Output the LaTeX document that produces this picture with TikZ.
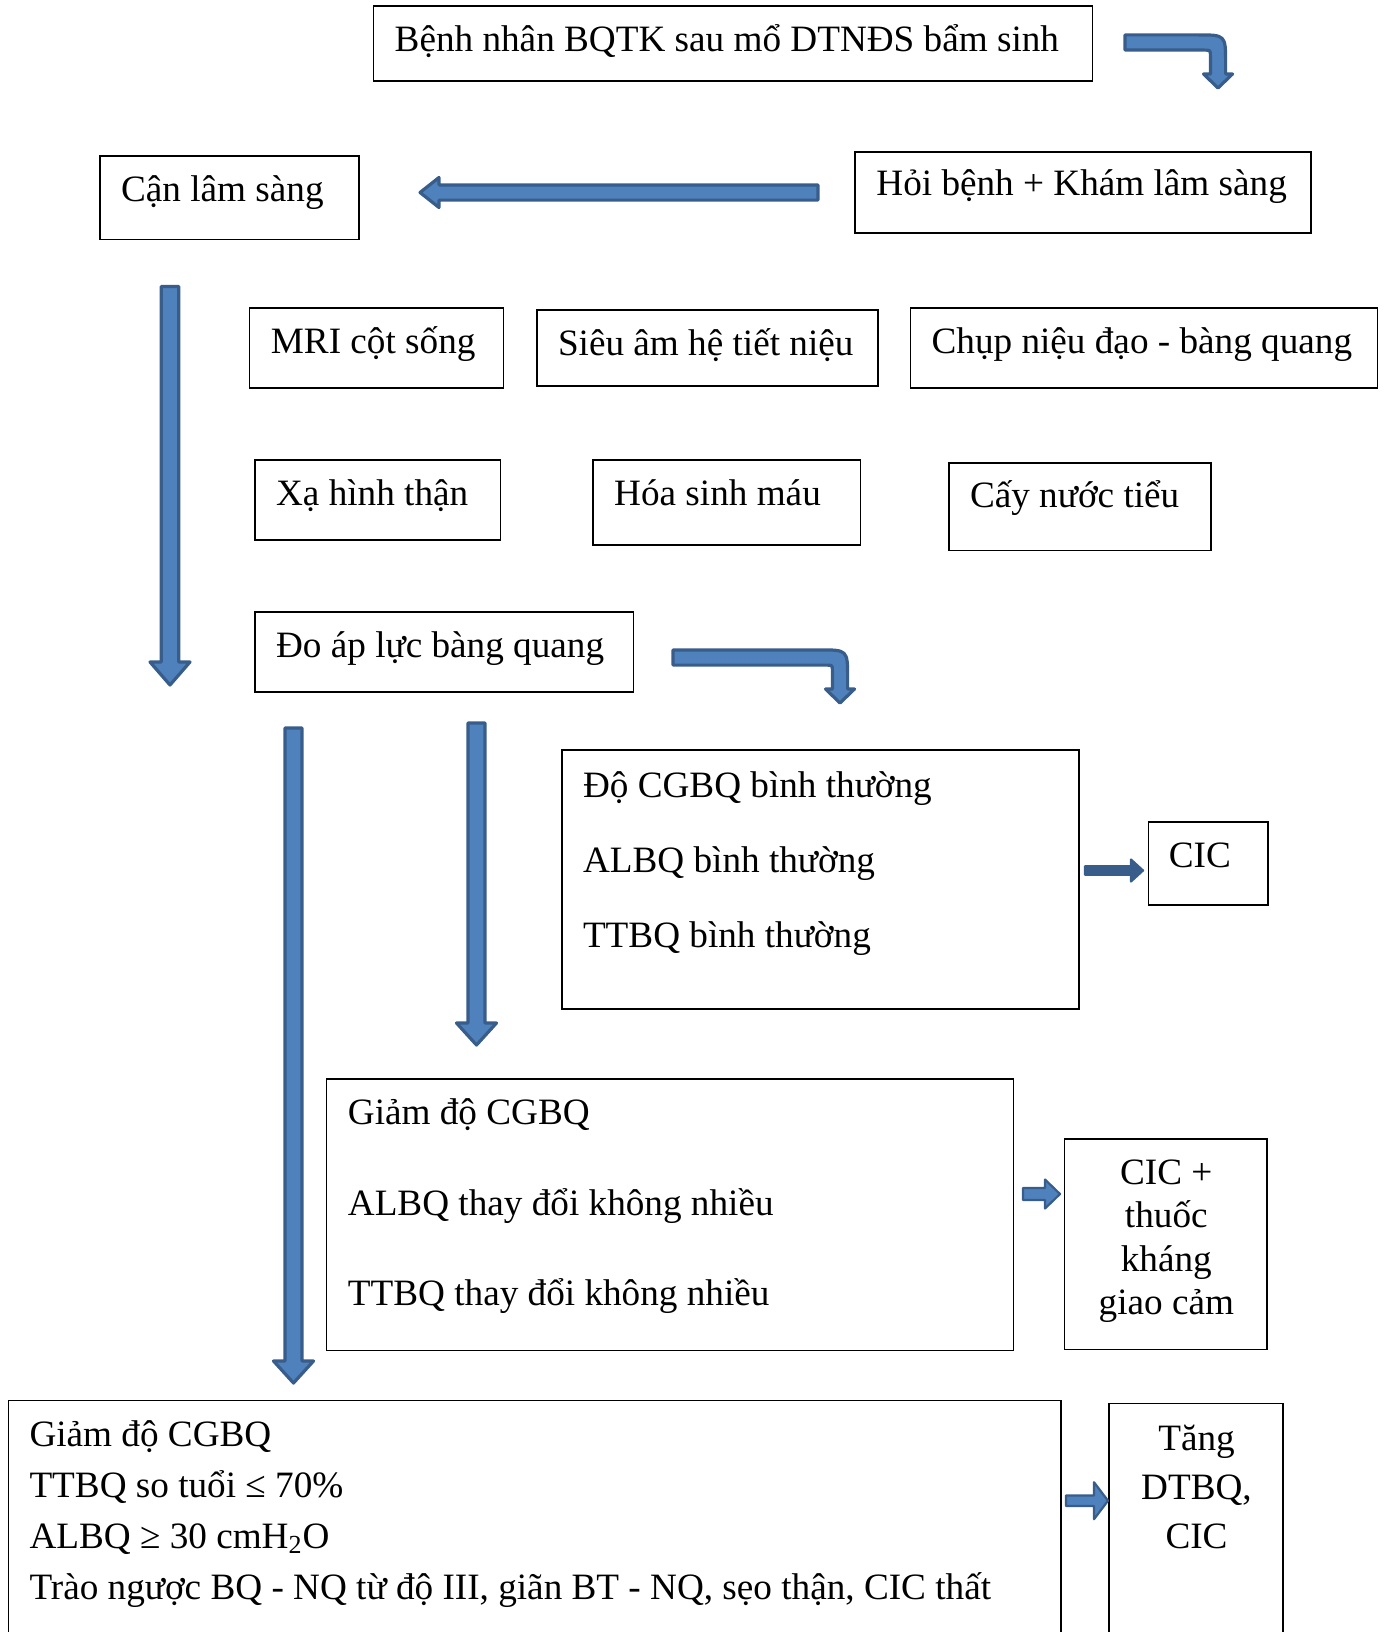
\documentclass[tikz,border=0pt]{standalone}
\usepackage{fontspec}
\setmainfont{Liberation Serif}
\usetikzlibrary{fit}
\definecolor{arrowfill}{HTML}{4F81BD}
\definecolor{arrowline}{HTML}{385D8A}

% block arrow pointing down: x, y top, y tip, shaft half width, head half width, head length
\newcommand\blockdown[6]{%
  \path[blk] ({#1-#4},#2) -- ({#1+#4},#2) -- ({#1+#4},{#3-#6}) -- ({#1+#5},{#3-#6})
    -- (#1,#3) -- ({#1-#5},{#3-#6}) -- ({#1-#4},{#3-#6}) -- cycle;}
% block arrow pointing right: y, x start, x tip, shaft half width, head half width, head length
\newcommand\blockright[6]{%
  \path[blk] (#2,{#1-#4}) -- ({#3-#6},{#1-#4}) -- ({#3-#6},{#1-#5}) -- (#3,#1)
    -- ({#3-#6},{#1+#5}) -- ({#3-#6},{#1+#4}) -- (#2,{#1+#4}) -- cycle;}
% block arrow pointing left: y, x start, x tip, shaft half width, head half width, head length
\newcommand\blockleft[6]{%
  \path[blk] (#2,{#1-#4}) -- ({#3+#6},{#1-#4}) -- ({#3+#6},{#1-#5}) -- (#3,#1)
    -- ({#3+#6},{#1+#5}) -- ({#3+#6},{#1+#4}) -- (#2,{#1+#4}) -- cycle;}
% bent arrow: right then down. x start, y centre, x of vertical, y head top, y tip
\newcommand\blockbend[5]{%
  \path[blk] (#1,{#2-7.6}) -- ({#3+7.6-28},{#2-7.6}) .. controls ({#3+7.6},{#2-7.6}) .. ({#3+7.6},{#2-7.6+28})
    -- ({#3+7.6},#4) -- ({#3+14.5},#4) -- (#3,#5) -- ({#3-14.5},#4) -- ({#3-7.6},#4)
    -- ({#3-7.6},{#2+7.6+6}) .. controls ({#3-7.6},{#2+7.6}) .. ({#3-7.6-6},{#2+7.6})
    -- (#1,{#2+7.6}) -- cycle;}

\begin{document}
\begin{tikzpicture}[x=0.5pt,y=-0.5pt,
  box/.style={draw, line width=0.75pt, inner sep=0pt},
  txt/.style={anchor=base west, inner sep=0pt, font=\fontsize{18.6}{22}\selectfont},
  ctxt/.style={anchor=base, inner sep=0pt, font=\fontsize{18.6}{22}\selectfont},
  blk/.style={draw=arrowline, fill=arrowfill, line width=1.6pt, line join=round}]
\useasboundingbox (0,0) rectangle (1389,1632);
\clip (0,0) rectangle (1389,1632);

% boxes
\node[box, fit={(373.5,6.2) (1092.4,81.2)}] (start) {};
\node[box, fit={(855.2,151.9) (1310.9,233)}] (exam) {};
\node[box, fit={(99.9,156) (358.9,239.3)}] (lab) {};
\node[box, fit={(249.7,308) (503.6,388.1)}] (mri) {};
\node[box, fit={(536.8,310) (878.1,386)}] (us) {};
\node[box, fit={(910.4,308) (1377.5,388.1)}] (vcug) {};
\node[box, fit={(254.9,459.9) (500.4,540)}] (scan) {};
\node[box, fit={(593,459.9) (860.4,545.2)}] (blood) {};
\node[box, fit={(948.8,463) (1211,550.4)}] (urine) {};
\node[box, fit={(254.9,611.8) (633.6,691.9)}] (uro) {};
\node[box, fit={(561.8,750.1) (1078.9,1009.2)}] (normal) {};
\node[box, fit={(1148.6,821.9) (1268.2,905.1)}] (cic) {};
\node[box, fit={(326.7,1078.9) (1013.3,1350.4)}] (mild) {};
\node[box, fit={(1064.3,1139.2) (1267.2,1349.4)}] (cicdrug) {};
\node[box, fit={(8.3,1400.4) (1061.2,1660)}] (severe) {};
\node[box, fit={(1109,1403.5) (1282.8,1660)}] (surg) {};

% texts
\node[txt] (tstart) at (394.3,52) {Bệnh nhân BQTK sau mổ DTNĐS bẩm sinh};
\node[txt] (texam) at (876,195.6) {Hỏi bệnh + Khám lâm sàng};
\node[txt] (tlab) at (120.7,201.8) {Cận lâm sàng};
\node[txt] (tmri) at (270.5,353.7) {MRI cột sống};
\node[txt] (tus) at (557.6,355.8) {Siêu âm hệ tiết niệu};
\node[txt] (tvcug) at (931.2,353.7) {Chụp niệu đạo - bàng quang};
\node[txt] (tscan) at (275.7,505.6) {Xạ hình thận};
\node[txt] (tblood) at (613.8,505.6) {Hóa sinh máu};
\node[txt] (turine) at (969.6,507.7) {Cấy nước tiểu};
\node[txt] (turo) at (275.7,657.5) {Đo áp lực bàng quang};
\node[txt] (tn1) at (582.6,797) {Độ CGBQ bình thường};
\node[txt] (tn2) at (582.6,872.9) {ALBQ bình thường};
\node[txt] (tn3) at (582.6,947.8) {TTBQ bình thường};
\node[txt] (tcic) at (1168.4,867.7) {CIC};
\node[txt] (tm1) at (347.5,1124.7) {Giảm độ CGBQ};
\node[txt] (tm2) at (347.5,1215.2) {ALBQ thay đổi không nhiều};
\node[txt] (tm3) at (347.5,1305.7) {TTBQ thay đổi không nhiều};
\node[ctxt] (td1) at (1166.3,1184) {CIC +};
\node[ctxt] (td2) at (1166.3,1227.7) {thuốc};
\node[ctxt] (td3) at (1166.3,1271.4) {kháng};
\node[ctxt] (td4) at (1166.3,1314) {giao cảm};
\node[txt] (ts1) at (29.1,1446.2) {Giảm độ CGBQ};
\node[txt] (ts2) at (29.1,1497.1) {TTBQ so tuổi ≤ 70\%};
\node[txt] (ts3) at (29.1,1548.1) {ALBQ ≥ 30 cmH\textsubscript{2}O};
\node[txt] (ts4) at (29.1,1599.1) {Trào ngược BQ - NQ từ độ III, giãn BT - NQ, sẹo thận, CIC thất};
\node[ctxt] (tg1) at (1196.5,1450.3) {Tăng};
\node[ctxt] (tg2) at (1196.5,1499.2) {DTBQ,};
\node[ctxt] (tg3) at (1196.5,1548.1) {CIC};

% block arrows
\blockbend{1125}{42.5}{1218}{74}{88}
\blockleft{192.5}{818}{420}{7.6}{15}{19}
\blockdown{170}{286.5}{685}{8.8}{20}{23}
\blockbend{673}{657.5}{840}{689}{703}
\blockdown{293.5}{728}{1383}{8.5}{20}{22}
\blockdown{476.5}{723}{1045}{8.5}{20}{22}
% the small arrows in front of the treatment boxes
\begin{scope}[blk/.style={draw=arrowline, fill=arrowline, line width=1.1pt, line join=round}]
\blockright{870.5}{1085}{1143}{4.3}{11}{12}
\end{scope}
\begin{scope}[blk/.style={draw=arrowline, fill=arrowfill, line width=1.1pt, line join=round}]
\blockright{1194}{1023}{1060}{6}{14.5}{15}
\blockright{1500.7}{1066}{1108}{5.3}{18.5}{14}
\end{scope}
\end{tikzpicture}
\end{document}
